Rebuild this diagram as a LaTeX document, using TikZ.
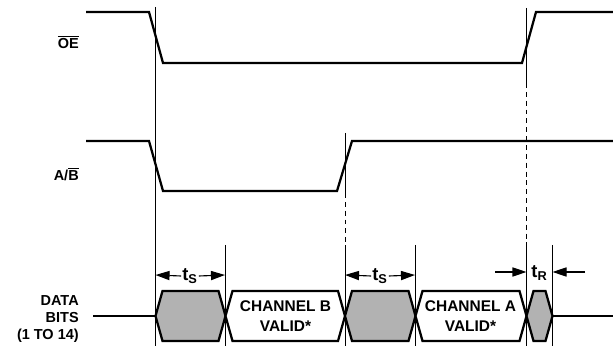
\documentclass[tikz,border=0pt]{standalone}
\usepackage{fontspec}
\setmainfont{Liberation Sans}
\usetikzlibrary{arrows.meta}
\begin{document}
\begin{tikzpicture}[x=0.025cm, y=-0.025cm,
  signal/.style={line width=1.6pt},
  marker/.style={line width=0.7pt},
  dashmark/.style={line width=0.7pt, dash pattern=on 3.5pt off 2.8pt},
  timing/.style={line width=0.8pt, -{Triangle[length=10pt,width=6.5pt]}},
  lbl/.style={font=\fontsize{10.3}{12}\selectfont\bfseries, inner sep=0pt},
  chlbl/.style={font=\fontsize{11}{14.5}\selectfont\bfseries, inner sep=0pt, align=center},
  tlbl/.style={font=\fontsize{13}{14}\selectfont\bfseries, inner sep=0pt}]
\useasboundingbox (0,0) rectangle (613,346);
\pgfmathsetmacro\mid{316}
\pgfmathsetmacro\slant{7}
\definecolor{busgray}{gray}{0.70}
\node[lbl, anchor=east] (oe) at (79,42) {$\overline{\hbox{OE}}$};
\node[lbl, anchor=east] (ab) at (79,174) {A/$\overline{\hbox{B}}$};
\node[lbl, anchor=east, align=right] (data) at (79,319) {DATA\\BITS\\(1 TO 14)};
\draw[signal] (86,12) -- (149,12) -- (163,63) -- (522,63) -- (536,12) -- (613,12);
\draw[signal] (86,141) -- (149,141) -- (163,191) -- (337,191) -- (352,141) -- (613,141);
\foreach \x/\top in {155.5/7, 225/245, 415/245, 552.5/245} \draw[marker] (\x,\top) -- (\x,346);
\foreach \x/\top/\bot in {345/133/193, 526.5/8/83} {
  \draw[marker] (\x,\top) -- (\x,\bot);
  \draw[dashmark] (\x,\bot) -- (\x,245);
  \draw[marker] (\x,245) -- (\x,346);
}
\draw[signal] (93,\mid) -- (155.5,\mid);
\draw[signal] (552.5,\mid) -- (613,\mid);
\foreach \a/\b/\c in {155.5/225.5/busgray, 225.5/345/white, 345/415.5/busgray, 415.5/526.5/white, 526.5/552.5/busgray}
  \draw[signal, fill=\c] (\a,\mid) -- (\a+\slant,291) -- (\b-\slant,291) -- (\b,\mid) -- (\b-\slant,341) -- (\a+\slant,341) -- cycle;
\node[chlbl] (chb) at (285.5,316) {CHANNEL B\\VALID*};
\node[chlbl] (cha) at (470.5,316) {CHANNEL A\\VALID*};
\coordinate (s1l) at (155.5,275);
\coordinate (s1r) at (225,275);
\coordinate (s2l) at (345,275);
\coordinate (s2r) at (415,275);
\coordinate (rl) at (495,272);
\coordinate (rr) at (585,272);
\node[tlbl] (ts1) at (190,276) {t\textsubscript{S}};
\node[tlbl] (ts2) at (380,276) {t\textsubscript{S}};
\node[tlbl] (tr) at (539.5,273) {t\textsubscript{R}};
\draw[timing] (ts1.west) ++(-1,0) -- (s1l);
\draw[timing] (ts1.east) ++(1,0) -- (s1r);
\draw[timing] (ts2.west) ++(-1,0) -- (s2l);
\draw[timing] (ts2.east) ++(1,0) -- (s2r);
\draw[timing] (rl) -- (526.5,272);
\draw[timing] (rr) -- (552.5,272);
\end{tikzpicture}
\end{document}
